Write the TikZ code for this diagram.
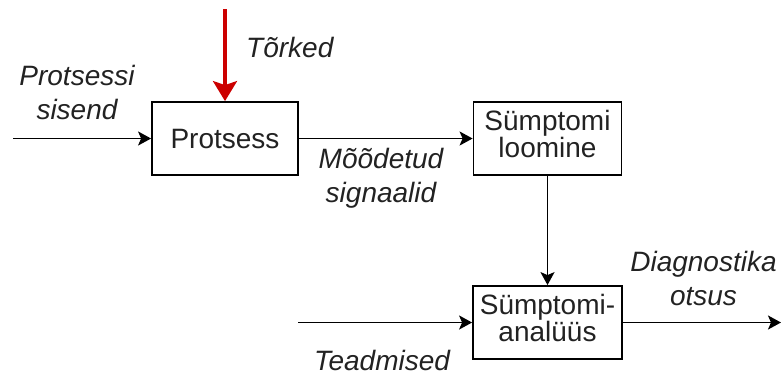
\documentclass[tikz,border=0pt]{standalone}
\usepackage{fontspec}
\setmainfont{Liberation Sans}
\usetikzlibrary{arrows.meta}

\definecolor{faultred}{RGB}{204,0,0}
\definecolor{inkgray}{RGB}{34,34,34}

\begin{document}
\begin{tikzpicture}[
    x=1pt, y=-1pt,
    block/.style={draw=black, line width=1.8pt, fill=white, inner sep=0pt,
                  align=center, text=inkgray,
                  font=\fontsize{28}{27}\selectfont},
    blocktwo/.style={block, text depth=9pt},
    blockone/.style={block, text height=20pt, text depth=1pt},
    flow/.style={draw=black, line width=1.8pt,
                 -{Stealth[length=13pt, width=14pt, inset=3pt]}},
    fault/.style={draw=faultred, line width=3.6pt,
                  -{Stealth[length=20pt, width=24pt, inset=4pt]}},
    lbl/.style={align=center, anchor=base, inner sep=0pt, text=inkgray,
                font=\fontsize{28}{34}\selectfont\itshape},
]
\useasboundingbox (0,0) rectangle (781,376);

% process blocks
\node[blockone, minimum width=146pt, minimum height=73pt] (proc) at (225,138.5) {Protsess};
\node[blocktwo, minimum width=148pt, minimum height=73pt] (gen) at (547.5,138.5) {Sümptomi\\loomine};
\node[blocktwo, minimum width=149pt, minimum height=73pt] (ana) at (547.5,322.5) {Sümptomi-\\analüüs};

% free ends of the signal lines
\coordinate (faultin) at (225,9);
\coordinate (procin) at (13,138.5);
\coordinate (knowin) at (298,322.5);
\coordinate (decout) at (781,322.5);

% connectors
\draw[fault] (faultin) -- (proc.north);
\draw[flow] (procin) -- (proc.west);
\draw[flow] (proc.east) -- (gen.west);
\draw[flow] (gen.south) -- (ana.north);
\draw[flow] (knowin) -- (ana.west);
\draw[flow] (ana.east) -- (decout);

% signal labels
\node[lbl] (lin) at (77,119) {Protsessi\\sisend};
\node[lbl, anchor=base west] (lfault) at (246,57) {Tõrked};
\node[lbl] (lmeas) at (381,202) {Mõõdetud\\signaalid};
\node[lbl] (ldec) at (703.5,305) {Diagnostika\\otsus};
\node[lbl] (lknow) at (382,370) {Teadmised};
\end{tikzpicture}
\end{document}
